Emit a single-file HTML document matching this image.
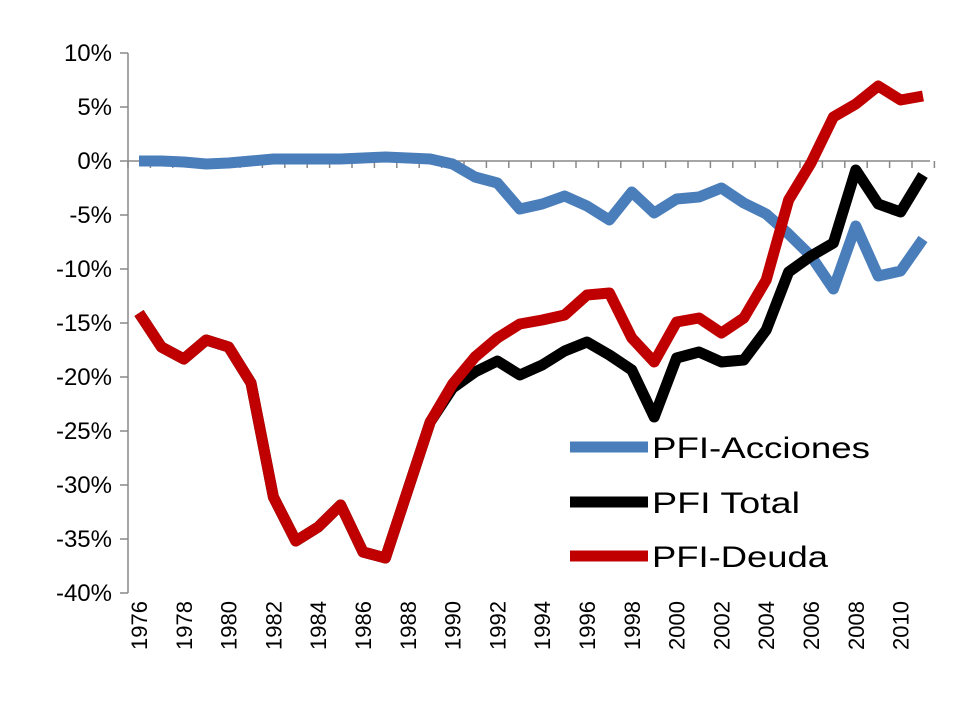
<!DOCTYPE html>
<html><head><meta charset="utf-8"><style>
body{margin:0;background:#fff;}
svg{display:block;font-family:"Liberation Sans",sans-serif;}
</style></head><body>
<svg width="960" height="720" viewBox="0 0 960 720">
<g stroke="#888" stroke-width="1.5" fill="none">
<line x1="128" y1="53" x2="128" y2="593"/>
<line x1="128" y1="161" x2="930" y2="161"/>
</g>
<g id="ticks" stroke="#888" stroke-width="1.5"></g>
<g id="ylab" font-size="24" fill="#000" text-anchor="end"></g>
<g id="xlab" font-size="22" fill="#000"></g>
<g fill="none" stroke-width="11" stroke-linejoin="round" stroke-linecap="butt">
<polyline id="acc" stroke="#4a7ebb"/>
<polyline id="tot" stroke="#000"/>
<polyline id="deu" stroke="#c00000"/>
</g>
<g stroke-width="11">
<line x1="570" y1="447" x2="648" y2="447" stroke="#4a7ebb"/>
<line x1="570" y1="502" x2="648" y2="502" stroke="#000"/>
<line x1="570" y1="556" x2="648" y2="556" stroke="#c00000"/>
</g>
<g font-size="30" fill="#000">
<text x="652" y="458" textLength="218" lengthAdjust="spacingAndGlyphs">PFI-Acciones</text>
<text x="652" y="513" textLength="148" lengthAdjust="spacingAndGlyphs">PFI Total</text>
<text x="652" y="567" textLength="176" lengthAdjust="spacingAndGlyphs">PFI-Deuda</text>
</g>
</svg>
<script>
var ns="http://www.w3.org/2000/svg";
function X(i){return 139+i*22.4;}
var acc=[161,161,162,164,163,161,159,159,159,159,158,157,158,159,164,177,183,209,204,196,206,220,192,213,199,197,188,203,214,234,256,289,226,276,271,239];
var tot=[313,347,359,340,347,383,497,541,527,505,552,558,490,422,388,372,361,375,365,351,342,355,370,417,358,352,362,360,330,272,256,243,170,204,212,175];
var deu=[313,347,359,340,347,383,497,541,527,505,552,558,490,422,384,357,338,324,320,315,295,293,338,362,322,318,333,318,280,200,163,117,104,86,100,96];
function pts(a){return a.map(function(y,i){return X(i).toFixed(1)+","+y;}).join(" ");}
document.getElementById("acc").setAttribute("points",pts(acc));
document.getElementById("tot").setAttribute("points",pts(tot));
document.getElementById("deu").setAttribute("points",pts(deu));
var t=document.getElementById("ticks"),yl=document.getElementById("ylab"),xl=document.getElementById("xlab");
for(var k=0;k<=10;k++){var y=53+k*54;
var l=document.createElementNS(ns,"line");l.setAttribute("x1",120);l.setAttribute("x2",128);l.setAttribute("y1",y);l.setAttribute("y2",y);t.appendChild(l);
var tx=document.createElementNS(ns,"text");tx.setAttribute("x",112);tx.setAttribute("y",y+8);tx.textContent=(10-5*k)+"%";yl.appendChild(tx);}
for(var i=0;i<=36;i++){var x=128+i*22.4;
var l=document.createElementNS(ns,"line");l.setAttribute("x1",x);l.setAttribute("x2",x);l.setAttribute("y1",161);l.setAttribute("y2",168);t.appendChild(l);}
for(var yr=1976;yr<=2010;yr+=2){var x=X(yr-1976)+8;
var tx=document.createElementNS(ns,"text");tx.setAttribute("transform","translate("+x+",650) rotate(-90)");tx.setAttribute("x",0);tx.setAttribute("y",0);tx.textContent=yr;xl.appendChild(tx);}
</script>
</body></html>
